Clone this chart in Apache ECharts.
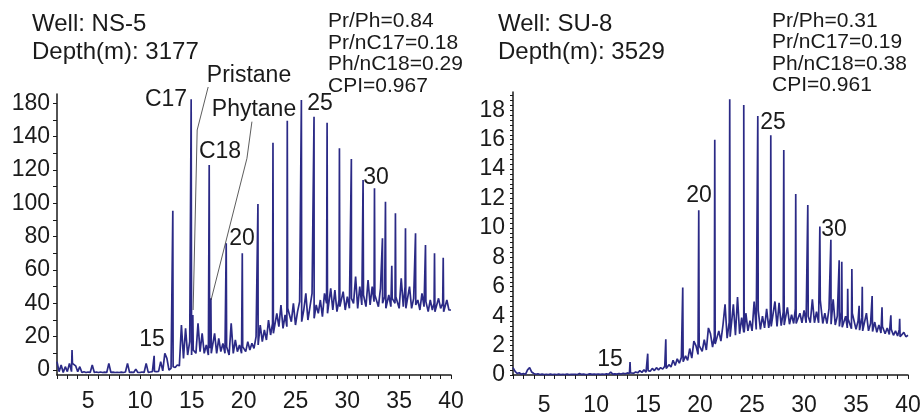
<!DOCTYPE html>
<html>
<head>
<meta charset="utf-8">
<title>GC chromatograms NS-5 / SU-8</title>
<script src="https://cdn.jsdelivr.net/npm/echarts@6/dist/echarts.min.js"></script>
<style>
  html, body { margin: 0; padding: 0; background: #fff; }
  #chart { width: 921px; height: 416px; }
</style>
</head>
<body>
<div id="chart"></div>
<script>
// retention time labels (min)
var timeLabels = [5, 10, 15, 20, 25, 30, 35, 40];

// y tick positions and the text printed at them (the original prints 180 at the 160 slot)
var yTicksNS5 = [0, 20, 40, 60, 80, 100, 120, 140, 160];
var yTextNS5 = ['0', '20', '40', '60', '80', '100', '120', '140', '180'];
var yTicksSU8 = [0, 2, 4, 6, 8, 10, 12, 14, 16, 18];

// baseline + noise, one reading every 0.2 min from 2.0 to 40.0
var traceStart = 2.0, traceStep = 0.2;
var traceNS5 = [
  5, -1, 3, -1.5, 2, -1, 4, -1, 4, 2.5,
  -1, 2, -1.5, -1, -1.5, -1.2, -1.5, 3, -1.5, -1.2,
  -1.5, -1.2, -1.5, -1.3, -1.5, 4, -1.5, -1.3, -1.5, -1.4,
  -1.5, -1.3, -1.5, -1.2, 4, -1.5, -1.3, -1.5, 0.5, -1.5,
  -1.5, -1.2, -1.5, 4, -1.4, -1.2, -1, -0.8, -1, -0.8,
  5, -0.5, 10, 7, 0, 1, 2, 1.5, 3, 2.5,
  27, 7, 25, 9, 17, 9, 12, 10, 28, 11,
  22, 10, 15, 9, 13, 10, 22, 10, 19, 11,
  16, 10, 14, 9, 28, 10, 18, 11, 15, 10,
  14, 11, 17, 12, 16, 13, 20, 15, 27, 17,
  24, 18, 30, 21, 28, 22, 34, 26, 39, 25,
  33, 26, 37, 29, 40, 27, 35, 41, 29, 36,
  46, 30, 38, 46, 31, 39, 34, 42, 32, 46,
  40, 34, 49, 36, 48, 35, 42, 38, 47, 36,
  44, 37, 43, 40, 56, 37, 50, 39, 45, 38,
  54, 39, 50, 41, 45, 38, 49, 40, 44, 37,
  45, 38, 43, 40, 44, 37, 55, 38, 50, 37,
  50, 37, 43, 39, 42, 36, 46, 38, 41, 35,
  42, 36, 40, 35, 43, 37, 40, 35, 42, 36,
  36
];
var traceSU8 = [
  0.5, 0.25, 0.1, 0.15, 0.05, 0.1, 0.05, 0.35, 0.5, 0.2,
  0.1, 0.05, 0.08, 0.03, 0.06, 0.03, 0.05, 0.03, 0.06, 0.03,
  0.05, 0.03, 0.06, 0.03, 0.05, 0.03, 0.06, 0.03, 0.05, 0.04,
  0.05, 0.03, 0.1, 0.04, 0.06, 0.03, 0.05, 0.08, 0.04, 0.06,
  0.04, 0.07, 0.04, 0.06, 0.05, 0.08, 0.05, 0.2, 0.06, 0.08,
  0.06, 0.1, 0.07, 0.12, 0.08, 0.14, 0.1, 0.15, 0.12, 0.2,
  0.15, 0.3, 0.18, 0.35, 0.2, 0.3, 0.25, 0.45, 0.3, 0.5,
  0.35, 0.5, 0.4, 0.6, 0.45, 0.7, 0.55, 1.0, 0.65, 1.1,
  0.8, 1.2, 0.9, 1.3, 1.0, 1.8, 1.15, 2.3, 2.0, 1.4,
  2.0, 1.6, 2.4, 1.7, 3.2, 2.8, 1.9, 2.6, 2.1, 3.0,
  2.3, 3.4, 4.8, 2.5, 3.6, 2.6, 4.8, 2.7, 5.3, 2.8,
  3.9, 2.9, 4.2, 3.0, 3.7, 3.0, 5.0, 3.1, 4.4, 3.1,
  4.0, 3.2, 4.5, 3.2, 3.9, 3.3, 5.0, 3.3, 4.9, 3.35,
  4.3, 3.4, 4.6, 3.45, 4.1, 3.5, 4.5, 3.5, 4.2, 3.55,
  4.4, 3.55, 4.0, 3.55, 5.15, 3.55, 4.3, 3.55, 5.1, 3.5,
  4.2, 3.5, 4.5, 3.45, 5.15, 3.4, 4.0, 3.3, 4.3, 3.25,
  4.0, 3.2, 3.8, 3.15, 4.2, 3.1, 3.7, 3.05, 3.9, 3.0,
  4.2, 3.0, 3.5, 2.95, 3.6, 2.9, 3.4, 2.85, 3.3, 2.8,
  3.2, 2.75, 3.1, 2.7, 3.0, 2.65, 3.1, 2.6, 2.9, 2.6,
  2.7
];

// resolved peaks: [retention time, height]
var peaksNS5 = [
  [3.45, 12], [11.37, 8.5], [13.17, 95.6], [14.94, 162.4], [15.1, 33],
  [16.68, 123], [16.84, 43], [18.32, 76], [19.87, 70], [21.38, 99.6],
  [22.83, 136.4], [24.21, 149.6], [25.57, 162], [26.79, 152], [28.05, 148.4],
  [29.24, 133], [30.39, 126.6], [31.52, 114], [32.62, 109], [33.39, 79],
  [33.68, 101], [34.29, 62.6], [34.64, 94], [35.61, 85], [36.58, 82],
  [37.54, 75], [38.41, 70], [39.25, 67.4]
];
var peaksSU8 = [
  [13.26, 0.88], [14.96, 1.45], [16.7, 2.43], [18.33, 5.94], [19.87, 11.2],
  [21.41, 16.0], [22.85, 18.74], [24.2, 18.36], [25.55, 17.6], [26.8, 16.3],
  [28.05, 15.3], [29.2, 12.3], [30.36, 11.56], [31.52, 10.1], [32.58, 9.2],
  [33.38, 7.8], [33.63, 7.7], [34.2, 5.87], [34.6, 7.2], [35.3, 4.7],
  [35.6, 6.0], [36.55, 5.37], [37.5, 4.6], [38.35, 4.06], [39.2, 3.83]
];

// leader lines for the isoprenoid labels (data coords)
var pristaneLeader = [[16.58, 169.8], [15.52, 144], [15.13, 36]];
var phytaneLeader = [[20.8, 149], [20.32, 127], [16.86, 42]];

var ink = '#1a1a1a';
var traceColor = '#2b2a86';
var font = 'Arial, "Liberation Sans", sans-serif';

// the trace readings, with each peak dropped in as a narrow spike whose feet
// sit on the neighbouring readings
function buildTrace(trace, peaks) {
  var pts = trace.map(function (v, i) {
    return [+(traceStart + i * traceStep).toFixed(2), v];
  });
  var extra = [];
  peaks.forEach(function (p) {
    var i = Math.floor((p[0] - traceStart) / traceStep);
    var lo = trace[Math.max(i, 0)], hi = trace[Math.min(i + 1, trace.length - 1)];
    extra.push([p[0] - 0.04, lo], [p[0], p[1]], [p[0] + 0.04, hi]);
  });
  pts = pts.concat(extra);
  pts.sort(function (a, b) { return a[0] - b[0]; });
  return pts;
}

var minuteTicks = [];
for (var m = 2; m <= 40; m++) minuteTicks.push(m);
var nsMinor = [];
for (var a = 0; a <= 160; a += 10) nsMinor.push(a);
var suMinor = [];
for (var b = 0; b <= 57; b++) suMinor.push(+(b / 3).toFixed(3));

function xAxisFor(idx, margin) {
  return {
    type: 'value', gridIndex: idx, min: 2, max: 40,
    axisLine: { onZero: false, lineStyle: { color: ink, width: 1.5 } },
    axisTick: { customValues: minuteTicks, length: 4, lineStyle: { color: ink } },
    axisLabel: { customValues: timeLabels, margin: margin, color: ink, fontSize: 23, fontFamily: font },
    splitLine: { show: false }
  };
}

var myChart = echarts.init(document.getElementById('chart'));

var option = {
  animation: false,
  backgroundColor: '#fff',
  grid: [
    { left: 57, top: 94, width: 394, bottom: 41, outerBoundsMode: 'none' },
    { left: 513, top: 92, width: 395, bottom: 41, outerBoundsMode: 'none' }
  ],
  xAxis: [xAxisFor(0, 15), xAxisFor(1, 19)],
  yAxis: [
    {
      type: 'value', gridIndex: 0, min: -3, max: 165.6,
      axisLine: { show: true, onZero: false, lineStyle: { color: ink, width: 1.5 } },
      axisTick: { show: true, customValues: nsMinor, length: 4, lineStyle: { color: ink } },
      axisLabel: {
        customValues: yTicksNS5, margin: 7, color: ink, fontSize: 23, fontFamily: font,
        formatter: function (v) { return yTextNS5[yTicksNS5.indexOf(v)]; }
      },
      splitLine: { show: false }
    },
    {
      type: 'value', gridIndex: 1, min: 0, max: 19.24,
      axisLine: { show: true, onZero: false, lineStyle: { color: ink, width: 1.5 } },
      axisTick: { show: true, customValues: suMinor, length: 3, lineStyle: { color: ink } },
      axisLabel: { customValues: yTicksSU8, margin: 8, color: ink, fontSize: 23, fontFamily: font },
      splitLine: { show: false }
    }
  ],
  series: [
    {
      name: 'NS-5', type: 'line', xAxisIndex: 0, yAxisIndex: 0,
      data: buildTrace(traceNS5, peaksNS5),
      symbol: 'none', lineStyle: { color: traceColor, width: 1.7 }
    },
    {
      name: 'SU-8', type: 'line', xAxisIndex: 1, yAxisIndex: 1,
      data: buildTrace(traceSU8, peaksSU8),
      symbol: 'none', lineStyle: { color: traceColor, width: 1.7 }
    },
    {
      type: 'lines', coordinateSystem: 'cartesian2d', xAxisIndex: 0, yAxisIndex: 0,
      polyline: true, clip: false, silent: true, z: 5,
      symbol: ['none', 'arrow'], symbolSize: 6,
      lineStyle: { color: '#333', width: 0.8, opacity: 1, curveness: 0 },
      data: [{ coords: pristaneLeader }, { coords: phytaneLeader }]
    }
  ],
  graphic: []
};

function label(text, x, y, size, align) {
  return {
    type: 'text', x: x, y: y, silent: true,
    style: {
      text: text, fill: ink, font: size + 'px ' + font,
      align: align || 'center', verticalAlign: 'middle'
    }
  };
}
function block(text, x, y) {
  return {
    type: 'text', x: x, y: y, silent: true,
    style: { text: text, fill: ink, font: '21px ' + font, lineHeight: 21.4, align: 'left', verticalAlign: 'top' }
  };
}

option.graphic = [
  label('Well: NS-5', 32, 24, 24, 'left'),
  label('Depth(m): 3177', 32, 52, 24, 'left'),
  block('Pr/Ph=0.84\nPr/nC17=0.18\nPh/nC18=0.29\nCPI=0.967', 328, 11),
  label('Well: SU-8', 498, 24, 24, 'left'),
  label('Depth(m): 3529', 498, 52, 24, 'left'),
  block('Pr/Ph=0.31\nPr/nC17=0.19\nPh/nC18=0.38\nCPI=0.961', 772, 10.5),
  label('C17', 166, 100, 23),
  label('Pristane', 249, 76, 23),
  label('Phytane', 254, 110, 23),
  label('C18', 220, 152, 23),
  label('25', 320, 104, 23),
  label('20', 242, 239, 23),
  label('30', 376, 178, 23),
  label('15', 152, 340, 23),
  label('20', 699, 196, 23),
  label('25', 773, 123, 23),
  label('30', 834, 230, 23),
  label('15', 610, 360, 23)
];

myChart.setOption(option);
</script>
</body>
</html>
